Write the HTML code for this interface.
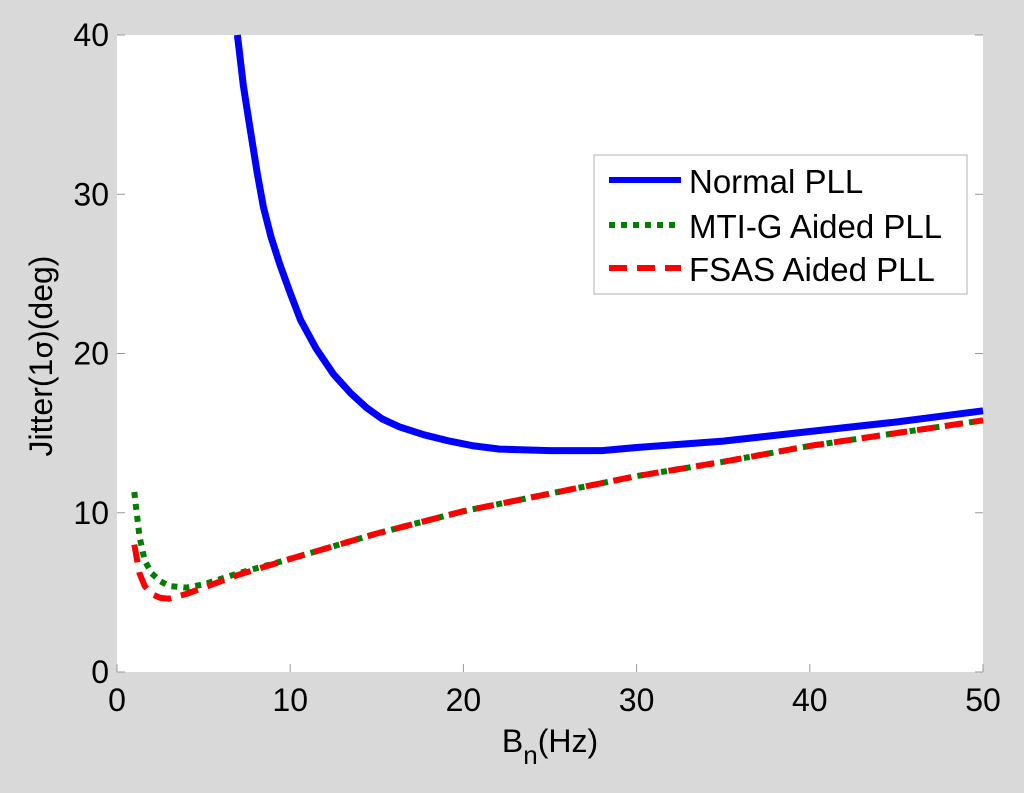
<!DOCTYPE html>
<html><head><meta charset="utf-8"><style>
body{margin:0;background:#d9d9d9;width:1024px;height:788px;overflow:hidden;font-family:"Liberation Sans",sans-serif}
</style></head><body>
<svg id="chart" width="1024" height="788" xmlns="http://www.w3.org/2000/svg">
<rect x="0" y="0" width="1024" height="788" fill="#d9d9d9"/>
<rect x="117" y="35" width="866" height="637" fill="#fff"/>
<g id="ticks"></g>
<g id="series"></g>
<text x="550" y="752" font-size="32" text-anchor="middle">B<tspan font-size="26" dy="12">n</tspan><tspan dy="-12">(Hz)</tspan></text>
<text transform="translate(52,356) rotate(-90)" font-size="32" text-anchor="middle">Jitter(1<tspan font-family="DejaVu Sans" font-size="28">σ</tspan>)(deg)</text>
<g>
<rect x="594" y="155" width="373" height="139" fill="#fff" stroke="#b0b0b0" stroke-width="1"/>
<line x1="609" y1="180" x2="681" y2="180" stroke="#0000ff" stroke-width="6"/>
<text x="689" y="193" font-size="33">Normal PLL</text>
<line x1="609" y1="225" x2="681" y2="225" stroke="#007f00" stroke-width="6" stroke-dasharray="6,6"/>
<text x="689" y="238" font-size="33">MTI-G Aided PLL</text>
<line x1="609" y1="268" x2="681" y2="268" stroke="#ff0000" stroke-width="6" stroke-dasharray="18,10"/>
<text x="689" y="281" font-size="33">FSAS Aided PLL</text>
</g>
</svg>
<script>
const xTicks=[0,10,20,30,40,50];
const yTicks=[0,10,20,30,40];
const normalX=[6.95,7.3,7.7,8.1,8.45,8.9,9.4,10,10.6,11.5,12.5,13.5,14.4,15.3,16.3,17.7,19.2,20.6,22.1,25,28,30,35,40,45,50];
const normalY=[40,36.8,34.0,31.3,29.2,27.3,25.6,23.8,22.1,20.3,18.7,17.5,16.6,15.9,15.4,14.9,14.5,14.2,14.0,13.9,13.9,14.1,14.5,15.1,15.7,16.4];
const mtigX=[1,1.3,1.6,2,2.5,3,4,5,7,10,15,20,25,30,35,40,45,50];
const mtigY=[11.3,8.5,7.0,6.2,5.7,5.4,5.3,5.5,6.2,7.1,8.7,10.1,11.2,12.3,13.2,14.2,15.0,15.8];
const fsasX=[1,1.3,1.6,2,2.5,3,4,5,7,10,15,20,25,30,35,40,45,50];
const fsasY=[8.0,6.2,5.4,4.9,4.65,4.6,4.9,5.3,6.1,7.1,8.7,10.1,11.2,12.3,13.2,14.2,15.0,15.8];
const L=117,R=983,T=35,B=672;
const sx=v=>L+(v-0)/50*(R-L);
const sy=v=>B-(v-0)/40*(B-T);
const NS="http://www.w3.org/2000/svg";
const tg=document.getElementById('ticks');
function mk(tag,attrs,parent){const e=document.createElementNS(NS,tag);for(const k in attrs)e.setAttribute(k,attrs[k]);parent.appendChild(e);return e;}
xTicks.forEach(t=>{
  const l=mk('line',{x1:sx(t),x2:sx(t),y1:B,y2:B-8,stroke:'#999','stroke-width':1},tg);
  
  
  const tx=mk('text',{x:sx(t),y:B+39,'font-size':32,'text-anchor':'middle'},tg);
  tx.textContent=t;
  
  
});
yTicks.forEach(t=>{
  const l=mk('line',{x1:L,x2:L+8,y1:sy(t),y2:sy(t),stroke:'#999','stroke-width':1},tg);
  
  
  const l2=mk('line',{x1:R,x2:R-8,y1:sy(t),y2:sy(t),stroke:'#999','stroke-width':1},tg);
  
  
  const tx=mk('text',{x:L-8,y:sy(t)+11,'font-size':32,'text-anchor':'end'},tg);
  tx.textContent=t;
  
  
});
const sg=document.getElementById('series');
function draw(xs,ys,color,w,dash,name){
  let d='';xs.forEach((x,i)=>{d+=(i?'L':'M')+sx(x).toFixed(1)+','+sy(ys[i]).toFixed(1);});
  const p=mk('path',{d:d,fill:'none',stroke:color,'stroke-width':w,'stroke-linejoin':'round'},sg);
  if(dash)p.setAttribute('stroke-dasharray',dash);
  
  
}
draw(normalX,normalY,'#0000ff',7,null,'normal-pll-line');
draw(mtigX,mtigY,'#007f00',6,'6,6','mtig-aided-pll-line');
draw(fsasX,fsasY,'#ff0000',6,'18,10','fsas-aided-pll-line');
</script>
</body></html>
